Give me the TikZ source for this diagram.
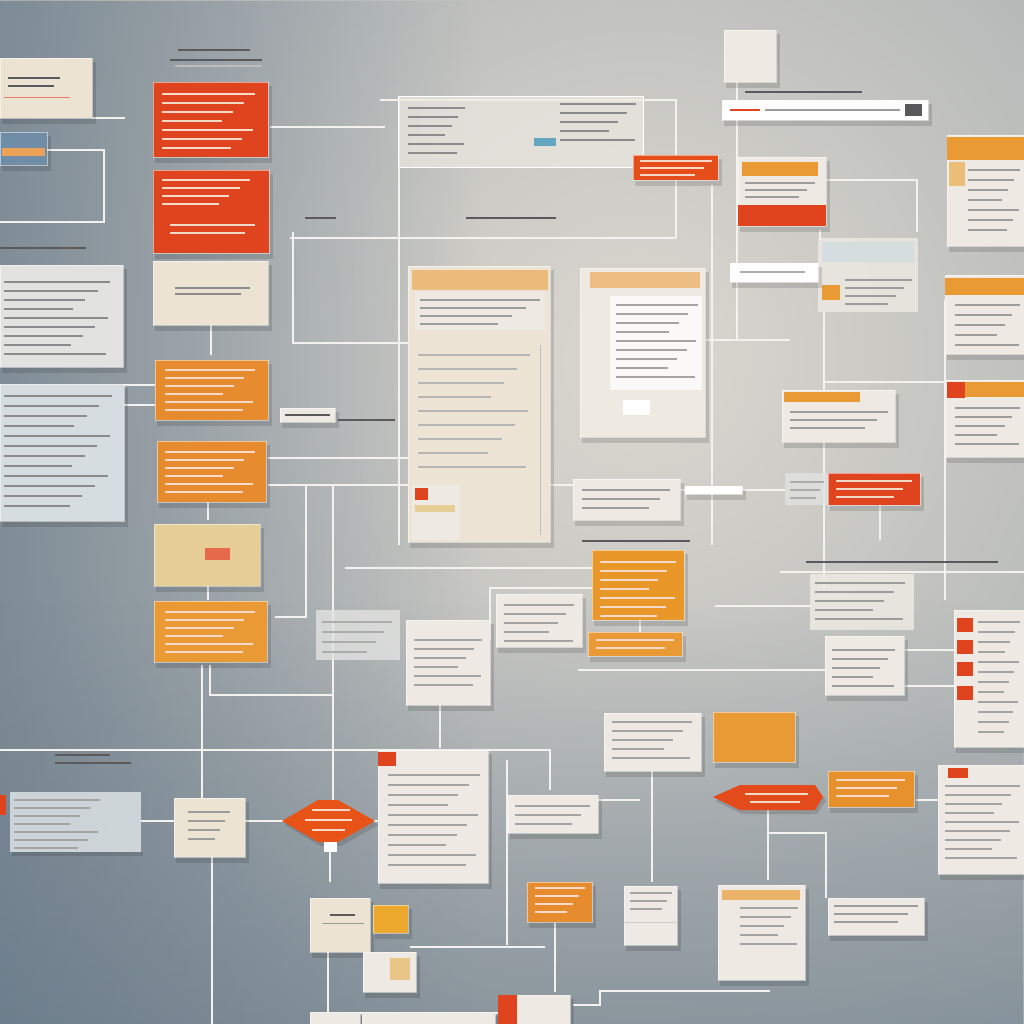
\documentclass[tikz,border=0pt]{standalone}
\usetikzlibrary{calc,fadings}
\definecolor{bgin}{HTML}{DCD8D0}
\definecolor{bgout}{HTML}{627585}
\definecolor{redc}{HTML}{E0441F}
\definecolor{orc}{HTML}{E68B2E}
\definecolor{orl}{HTML}{EA9A35}
\definecolor{beige}{HTML}{EDE3D2}
\definecolor{paper}{HTML}{EEEAE3}
\definecolor{tan}{HTML}{E6CE96}
\definecolor{glass}{HTML}{E2E3E1}
\definecolor{glassb}{HTML}{D6DDE0}
\definecolor{linec}{HTML}{F3F2EF}
\definecolor{ink}{HTML}{5A5A5C}
\definecolor{pale}{HTML}{F6D9C8}
\definecolor{screen}{HTML}{6F8DA6}
\tikzfading[name=fadeleft, left color=transparent!0, right color=transparent!100]
\tikzfading[name=fadelow, top color=transparent!100, bottom color=transparent!0]
\newcommand\mycard[5]{%
  \fill[black,opacity=0.13] (#1+2,#2+4) rectangle (#3+4,#4+6);
  \fill[#5] (#1,#2) rectangle (#3,#4);
  \draw[white,opacity=0.5,line width=0.8pt] (#1,#2) rectangle (#3,#4);}
\newcommand\mytxt[6]{%
  \foreach \k in {0,...,#5}{\draw[#6,line width=1.4pt] (#1,#2+\k*#4) -- ({#3-mod(\k*29,23)/23*(#3-#1)*0.45},#2+\k*#4);}}
\tikzset{conn/.style={draw=linec,line width=2.6pt},
  lbl/.style={draw=ink,line width=2pt}}
\begin{document}
\begin{tikzpicture}[x=1pt,y=-1pt]
\useasboundingbox (0,0) rectangle (1024,1024);
\begin{scope}
\clip (0,0) rectangle (1024,1024);
\shade[inner color=bgin, outer color=bgout] (640-1700,360-1700) rectangle (640+1700,360+1700);
\fill[bgout, path fading=fadeleft, opacity=0.6] (0,0) rectangle (480,1024);
\fill[bgout, path fading=fadelow, opacity=0.45] (0,600) rectangle (1024,1024);
\end{scope}
% ---------- connectors ----------
\draw[conn] (270,127) -- (385,127);
\draw[conn] (399,97) -- (399,545);
\draw[conn] (380,100) -- (676,100) -- (676,238);
\draw[conn] (290,238) -- (676,238);
\draw[conn] (293,232) -- (293,343) -- (408,343);
\draw[conn] (268,458) -- (410,458);
\draw[conn] (268,485) -- (580,485);
\draw[conn] (306,485) -- (306,617) -- (275,617);
\draw[conn] (333,485) -- (333,800);
\draw[conn] (210,665) -- (210,695) -- (333,695);
\draw[conn] (0,750) -- (550,750) -- (550,790);
\draw[conn] (202,665) -- (202,798);
\draw[conn] (212,857) -- (212,1024);
\draw[conn] (141,821) -- (174,821);
\draw[conn] (245,821) -- (285,821);
\draw[conn] (372,821) -- (380,821);
\draw[conn] (330,842) -- (330,882);
\draw[conn] (345,568) -- (592,568);
\draw[conn] (737,82) -- (737,340);
\draw[conn] (705,340) -- (790,340);
\draw[conn] (826,180) -- (917,180) -- (917,232);
\draw[conn] (824,312) -- (824,590);
\draw[conn] (824,382) -- (946,382);
\draw[conn] (945,300) -- (945,600);
\draw[conn] (780,572) -- (1024,572);
\draw[conn] (715,606) -- (812,606);
\draw[conn] (490,640) -- (490,588) -- (595,588);
\draw[conn] (578,670) -- (830,670);
\draw[conn] (652,770) -- (652,882);
\draw[conn] (768,810) -- (768,880);
\draw[conn] (768,833) -- (826,833) -- (826,898);
\draw[conn] (573,1005) -- (600,1005) -- (600,991) -- (770,991);
\draw[conn] (410,947) -- (545,947);
\draw[conn] (555,923) -- (555,992);
\draw[conn] (328,952) -- (328,1012);
\draw[conn] (360,1013) -- (500,1013);
\draw[conn] (507,760) -- (507,945);
\draw[conn] (598,800) -- (640,800);
\draw[conn] (712,185) -- (712,545);
\draw[conn] (680,490) -- (785,490);
\draw[conn] (880,505) -- (880,540);
\draw[conn] (440,705) -- (440,748);
\draw[conn] (905,650) -- (955,650);
\draw[conn] (905,686) -- (955,686);
\draw[conn] (916,800) -- (940,800);
\draw[conn] (123,385) -- (155,385);
\draw[conn] (123,405) -- (155,405);
\draw[conn] (92,118) -- (125,118);
\draw[conn] (211,325) -- (211,355);
\draw[conn] (208,502) -- (208,520);
\draw[conn] (208,586) -- (208,600);
\draw[conn] (640,620) -- (640,632);
\draw[conn] (820,230) -- (820,240);
% ---------- top-left ----------
\draw[linec,line width=2.4pt] (0,150) -- (104,150) -- (104,222) -- (0,222);
\mycard{0}{58}{92}{118}{beige}
\mytxt{8}{78}{60}{8}{1}{ink}
\draw[redc!70,line width=1pt] (4,98) -- (70,98);
\mycard{0}{132}{47}{165}{screen}
\fill[orc!80] (2,148) rectangle (45,156);
\mycard{153}{82}{268}{157}{redc}
\mytxt{162}{94}{255}{9}{6}{pale}
\mycard{153}{170}{269}{253}{redc}
\mytxt{162}{180}{250}{8}{3}{pale}
\mytxt{170}{225}{255}{8}{1}{pale}
\mycard{153}{261}{268}{325}{beige}
\mytxt{175}{288}{250}{6}{1}{ink!70}
\mycard{0}{265}{123}{367}{glass}
\mytxt{4}{282}{110}{9}{8}{ink!70}
\mycard{0}{384}{124}{521}{glassb}
\mytxt{4}{396}{112}{10}{11}{ink!70}
\mycard{155}{360}{268}{420}{orc}
\mytxt{165}{370}{255}{8}{5}{pale}
\mycard{157}{441}{266}{502}{orc}
\mytxt{165}{452}{255}{8}{5}{pale}
\mycard{154}{524}{260}{586}{tan}
\fill[redc!80] (205,548) rectangle (230,560);
\mycard{154}{601}{267}{662}{orl}
\mytxt{165}{612}{255}{8}{5}{pale}
\mycard{280}{408}{335}{422}{paper}
\draw[ink,line width=1.4pt] (285,415) -- (330,415);
% ---------- labels ----------
\draw[lbl] (178,50) -- (250,50);
\draw[lbl] (170,60) -- (262,60);
\draw[ink!40,line width=1.5pt] (175,66) -- (262,66);
\draw[lbl] (0,248) -- (86,248);
\draw[lbl] (305,218) -- (336,218);
\draw[lbl] (466,218) -- (556,218);
\draw[lbl] (745,92) -- (862,92);
\draw[lbl] (582,541) -- (690,541);
\draw[lbl] (806,562) -- (998,562);
\draw[lbl] (55,755) -- (110,755);
\draw[lbl] (55,763) -- (131,763);
\draw[lbl] (338,420) -- (395,420);
% ---------- centre ----------
\fill[paper,opacity=0.7] (398,97) rectangle (643,168);
\draw[white,line width=1pt] (398,97) rectangle (643,168);
\mytxt{408}{108}{465}{9}{5}{ink!70}
\mytxt{560}{104}{636}{9}{4}{ink!70}
\fill[cyan!50!gray] (534,138) rectangle (556,146);
\mycard{633}{155}{718}{180}{redc!85!orange}
\mytxt{640}{161}{712}{7}{2}{pale}
\mycard{724}{30}{776}{82}{paper}
\mycard{722}{100}{928}{120}{white!95!paper}
\draw[redc,line width=2pt] (730,110) -- (760,110);
\draw[ink!60,line width=2pt] (765,110) -- (900,110);
\fill[ink] (905,104) rectangle (922,116);
\mycard{738}{157}{826}{226}{paper}
\fill[orl] (742,162) rectangle (818,176);
\mytxt{745}{183}{815}{7}{2}{ink!60}
\fill[redc] (738,205) rectangle (826,226);
\mycard{947}{135}{1024}{246}{paper}
\fill[orl] (947,137) rectangle (1024,160);
\fill[tan!80!orange] (949,162) rectangle (965,186);
\mytxt{968}{170}{1020}{10}{6}{ink!60}
\fill[paper,opacity=0.8] (818,238) rectangle (918,312);
\fill[glassb] (822,242) rectangle (914,262);
\fill[orl] (822,285) rectangle (840,300);
\mytxt{845}{280}{912}{8}{3}{ink!60}
\mycard{730}{263}{818}{282}{white!95!paper}
\draw[ink!50,line width=1.4pt] (740,272) -- (805,272);
\mycard{945}{275}{1024}{354}{paper}
\fill[orl] (945,278) rectangle (1024,295);
\mytxt{955}{305}{1020}{10}{4}{ink!60}
\mycard{945}{380}{1024}{457}{paper}
\fill[orl] (947,382) rectangle (1024,397);
\fill[redc] (947,382) rectangle (965,398);
\mytxt{955}{408}{1020}{9}{4}{ink!60}
% big centre panel
\mycard{408}{266}{550}{542}{beige!85!paper}
\fill[orl!60!paper] (412,270) rectangle (548,290);
\fill[paper] (415,292) rectangle (545,330);
\mytxt{420}{300}{540}{8}{3}{ink!60}
\draw[ink!40,line width=1pt] (540,345) -- (540,535);
\mytxt{418}{355}{530}{14}{8}{ink!45}
\fill[paper] (412,485) rectangle (460,540);
\fill[redc] (415,488) rectangle (428,500);
\fill[tan] (415,505) rectangle (455,512);
% panel 2
\mycard{580}{268}{705}{437}{paper!90!beige}
\fill[orl!55!paper] (590,272) rectangle (700,288);
\fill[white!70!paper] (610,296) rectangle (702,390);
\mytxt{616}{305}{698}{9}{8}{ink!55}
\fill[white] (623,400) rectangle (650,415);
\mycard{782}{390}{895}{442}{paper}
\fill[orl] (784,392) rectangle (860,402);
\mytxt{790}{412}{888}{8}{2}{ink!60}
\fill[glass,opacity=0.8] (785,473) rectangle (828,505);
\mytxt{790}{482}{824}{8}{2}{ink!50}
\mycard{828}{473}{920}{505}{redc}
\mytxt{836}{481}{912}{8}{2}{pale}
\mycard{573}{479}{680}{520}{paper}
\mytxt{582}{490}{670}{9}{2}{ink!60}
\mycard{685}{486}{742}{494}{white}
\mycard{592}{550}{684}{620}{orc!90!yellow}
\mytxt{600}{562}{676}{9}{6}{pale}
\mycard{588}{632}{682}{656}{orl}
\mytxt{596}{640}{674}{8}{1}{pale}
\fill[paper,opacity=0.85] (810,574) rectangle (914,630);
\mytxt{815}{583}{905}{9}{4}{ink!60}
\mycard{954}{610}{1024}{747}{paper}
\foreach \yy in {618,640,662,686} {\fill[redc] (957,\yy) rectangle (973,\yy+14);}
\mytxt{978}{622}{1020}{10}{11}{ink!55}
\mycard{825}{636}{904}{695}{paper}
\mytxt{832}{650}{895}{9}{4}{ink!60}
\fill[glass,opacity=0.8] (316,610) rectangle (400,660);
\mytxt{322}{622}{392}{10}{3}{ink!50}
\mycard{406}{620}{490}{705}{paper}
\mytxt{414}{640}{482}{9}{5}{ink!55}
\mycard{496}{594}{582}{647}{paper}
\mytxt{504}{605}{574}{9}{4}{ink!55}
\mycard{713}{712}{795}{762}{orl}
\mycard{604}{713}{701}{771}{paper}
\mytxt{612}{722}{692}{9}{4}{ink!55}
\fill[black,opacity=0.13] (715,801) -- (742,789) -- (817,789) -- (826,801) -- (817,814) -- (742,814) -- cycle;
\fill[redc!90!orange] (713,797) -- (740,785) -- (815,785) -- (823,797) -- (815,810) -- (740,810) -- cycle;
\draw[pale,line width=1.4pt] (745,794) -- (808,794);
\draw[pale,line width=1.4pt] (750,802) -- (800,802);
\mycard{828}{771}{914}{807}{orc!95!yellow}
\mytxt{836}{780}{905}{8}{2}{pale}
\mycard{938}{765}{1024}{874}{paper}
\fill[redc] (948,768) rectangle (968,778);
\mytxt{945}{786}{1020}{9}{8}{ink!55}
\mycard{718}{885}{805}{980}{paper}
\fill[orl!70!paper] (722,890) rectangle (800,900);
\mytxt{740}{908}{798}{9}{4}{ink!55}
\mycard{828}{898}{924}{935}{paper}
\mytxt{834}{906}{918}{8}{2}{ink!60}
\mycard{527}{882}{592}{922}{orc}
\mytxt{535}{888}{585}{8}{3}{pale}
\mycard{624}{886}{677}{945}{paper}
\draw[ink!30,line width=0.8pt] (624,922) -- (677,922);
\mytxt{630}{893}{672}{8}{2}{ink!55}
\mycard{508}{795}{598}{833}{paper}
\mytxt{515}{806}{590}{9}{2}{ink!55}
\mycard{378}{750}{488}{883}{paper}
\fill[redc] (378,752) rectangle (396,766);
\mytxt{388}{775}{480}{10}{9}{ink!55}
% bottom left
\fill[glassb,opacity=0.9] (10,792) rectangle (141,852);
\fill[black,opacity=0.12] (12,852) rectangle (143,856);
\fill[redc] (0,795) rectangle (6,815);
\mytxt{14}{800}{100}{8}{6}{ink!55}
\mycard{174}{798}{245}{857}{beige}
\mytxt{188}{812}{230}{9}{3}{ink!60}
\fill[black,opacity=0.13] (285,825) -- (321,804) -- (341,804) -- (378,825) -- (341,846) -- (321,846) -- cycle;
\fill[redc!75!orange] (282,821) -- (318,800) -- (338,800) -- (375,821) -- (338,842) -- (318,842) -- cycle;
\draw[pale,line width=1.4pt] (312,810) -- (350,810);
\draw[pale,line width=1.4pt] (305,820) -- (352,820);
\draw[pale,line width=1.4pt] (312,830) -- (345,830);
\fill[white] (324,842) rectangle (337,852);
\mycard{310}{898}{370}{952}{beige}
\draw[ink,line width=1.6pt] (330,915) -- (355,915);
\draw[ink!60,line width=1pt] (322,923) -- (364,923);
\mycard{373}{905}{408}{933}{orl!85!yellow}
\mycard{363}{952}{416}{992}{paper}
\fill[tan!90!orange] (390,958) rectangle (410,980);
\mycard{310}{1012}{360}{1024}{paper}
\mycard{362}{1012}{495}{1024}{paper}
\mycard{498}{995}{570}{1024}{paper}
\fill[redc] (498,995) rectangle (517,1024);
\end{tikzpicture}
\end{document}
